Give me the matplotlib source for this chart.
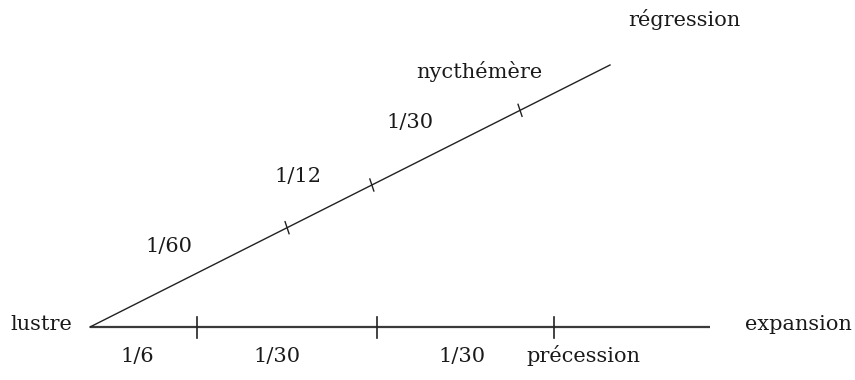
import numpy as np
import matplotlib
matplotlib.use("Agg")
import matplotlib.pyplot as plt

# Diagram geometry (pixel space of the original picture)
origin = (90, 327)
h_end = (710, 327)
d_end = (610, 65)

# tick positions as fractions along each line
h_ticks = [0.1726, 0.463, 0.748]
d_ticks = [0.379, 0.542, 0.827]

# labels
h_labels = ["1/6", "1/30", "1/30", "précession"]
h_label_x = [137, 277, 462, 583]
d_labels = ["1/60", "1/12", "1/30", "nycthémère"]
d_label_xy = [(169, 246), (298, 177), (410, 122), (479, 72)]
end_labels = ["lustre", "expansion", "régression"]
end_label_xy = [(41, 324), (798, 324), (684, 19)]

fig = plt.figure(figsize=(8.55, 3.8), dpi=100)
ax = fig.add_axes([0, 0, 1, 1])
ax.set_xlim(0, 855)
ax.set_ylim(380, 0)
ax.axis("off")

font = dict(family="DejaVu Serif", fontsize=15, color="#1a1a1a")

# horizontal line
ax.plot([origin[0], h_end[0]], [origin[1], h_end[1]], color="#3a3a3a", lw=1.6, solid_capstyle="butt")
for f in h_ticks:
    x = origin[0] + f * (h_end[0] - origin[0])
    ax.plot([x, x], [origin[1] - 10, origin[1] + 11], color="#222222", lw=1.2)

# diagonal line
ax.plot([origin[0], d_end[0]], [origin[1], d_end[1]], color="#222222", lw=1.0)
dx, dy = d_end[0] - origin[0], d_end[1] - origin[1]
for f in d_ticks:
    x = origin[0] + f * dx
    y = origin[1] + f * dy
    # short slanted tick, nearly vertical
    ax.plot([x - 2, x + 2], [y - 6, y + 6], color="#222222", lw=1.0)

for t, x in zip(h_labels, h_label_x):
    ax.text(x, 356, t, ha="center", va="center", **font)
for t, (x, y) in zip(d_labels, d_label_xy):
    ax.text(x, y, t, ha="center", va="center", **font)
for t, (x, y) in zip(end_labels, end_label_xy):
    ax.text(x, y, t, ha="center", va="center", **font)

fig.savefig("out.png", dpi=100, facecolor="white")
